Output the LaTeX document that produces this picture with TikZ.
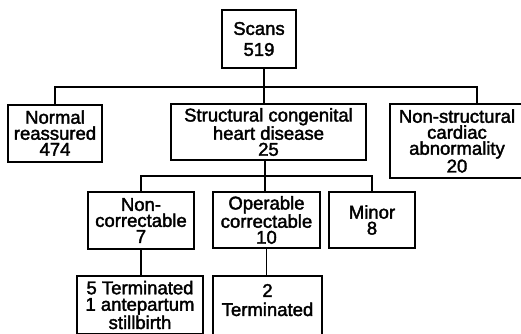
\documentclass[tikz,border=0pt]{standalone}
\usepackage{fontspec}
\setmainfont{Liberation Sans}[RawFeature={embolden=2}]
\begin{document}
\begin{tikzpicture}[x=1pt,y=-1pt,
        box/.style={draw, line width=2pt, align=center, inner sep=0pt,
            font=\fontsize{18.5}{16}\selectfont},
        link/.style={line width=1.2pt}]
        \clip (0,0) rectangle (521,333);

        \node[box, minimum width=74, minimum height=58,
            font=\fontsize{18.5}{21}\selectfont] (scans) at (259,39) {Scans\\519};

        \node[box, minimum width=94, minimum height=57] (normal) at (55,133) {Normal\\reassured\\474};
        \node[box, minimum width=195, minimum height=56] (struct) at (268.5,132) {Structural congenital\\heart disease\\25};
        \node[box, minimum width=134, minimum height=74] (nonstruct) at (457,141) {Non-structural\\cardiac\\abnormality\\20};

        \node[box, minimum width=106, minimum height=57] (noncorr) at (141,220.5) {Non-\\correctable\\7};
        \node[box, minimum width=107, minimum height=56] (oper) at (266.5,220) {Operable\\correctable\\10};
        \node[box, minimum width=86, minimum height=56] (minor) at (372,220) {Minor\\8};

        \node[box, minimum width=126, minimum height=58,
            font=\fontsize{18.5}{16.5}\selectfont] (term5) at (140,305) {5 Terminated\\1 antepartum\\stillbirth};
        \node[box, minimum width=109, minimum height=60,
            font=\fontsize{18.5}{19}\selectfont] (term2) at (267.5,306) {2\\Terminated\\[-7pt]\mbox{}};

        \coordinate (bus1) at (264,87);
        \coordinate (bus2) at (265,176);

        \draw[link] (scans.south -| bus1) -- (bus1);
        \draw[link] (normal.north) |- (bus1) -| ([xshift=20pt]nonstruct.north);
        \draw[link] (bus1) -- (bus1 |- struct.north);

        \draw[link] (bus2 |- struct.south) -- (bus2);
        \draw[link] (noncorr.north) |- (bus2) -| (minor.north);
        \draw[link] (bus2) -- (bus2 |- oper.north);

        \draw[link] (noncorr.south) -- (noncorr.south |- term5.north);
        \draw[link] (oper.south) -- (oper.south |- term2.north);
    \end{tikzpicture}
\end{document}
